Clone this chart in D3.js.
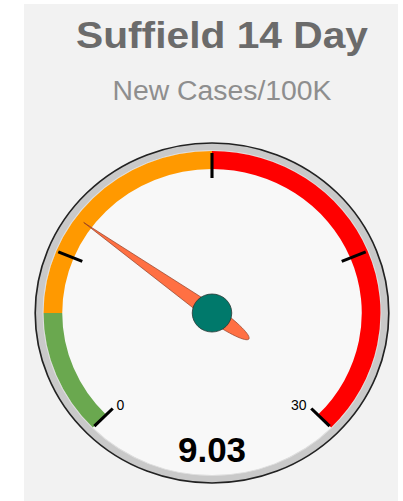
<!DOCTYPE html>
<html>
<head>
<meta charset="utf-8">
<script src="https://cdn.jsdelivr.net/npm/d3@7"></script>
<style>
  body { margin: 0; background: #fff; }
  svg text { font-family: "Liberation Sans", Arial, sans-serif; }
</style>
</head>
<body>
<div id="svg-holder"></div>
<script>
var width = 403;
var height = 501;

// gauge data
var title = "Suffield 14 Day";
var subtitle = "New Cases/100K";
var gaugeMin = 0;
var gaugeMax = 30;
var value = 9.03;
var bandFrom = [0, 5, 15];
var bandTo = [5, 15, 30];
var bandColors = ["#6aa84f", "#ff9900", "#ff0000"];
var majorTicks = [0, 7.5, 15, 22.5, 30];
var tickLabels = ["0", "", "", "", "30"];

var cx = 212, cy = 313;
var rOuter = 170;
var rFace = 162.5;
var bandOuter = 162;
var bandInner = 144;

var svg = d3.select('#svg-holder').append('svg')
            .attr("width", width)
            .attr("height", height);

// panel
svg.append('rect')
    .attr('x', 24).attr('y', 4)
    .attr('width', 374).attr('height', 497)
    .attr('fill', '#f2f2f2');

svg.append('text')
    .attr('x', 222).attr('y', 48)
    .attr('text-anchor', 'middle')
    .attr('font-size', 37)
    .attr('font-weight', 'bold')
    .attr('fill', '#6b6b6b')
    .attr('textLength', 292)
    .attr('lengthAdjust', 'spacingAndGlyphs')
    .text(title);

svg.append('text')
    .attr('x', 222).attr('y', 100)
    .attr('text-anchor', 'middle')
    .attr('font-size', 27)
    .attr('fill', '#8e8e8e')
    .attr('textLength', 219)
    .attr('lengthAdjust', 'spacingAndGlyphs')
    .text(subtitle);

// angle scale, degrees from 12 o'clock
var angle = d3.scaleLinear().domain([gaugeMin, gaugeMax]).range([-135, 135]);
var rad = function(d) { return angle(d) * Math.PI / 180; };

var g = svg.append('g')
    .attr('transform', 'translate(' + cx + ',' + cy + ') scale(1.04,1)');

g.append('circle')
    .attr('r', rOuter)
    .attr('fill', '#c9c9c9')
    .attr('stroke', '#222')
    .attr('stroke-width', 1.6);

g.append('circle')
    .attr('r', rFace)
    .attr('fill', '#f8f8f8')
    .attr('stroke', '#dedede')
    .attr('stroke-width', 1);

var arc = d3.arc()
    .innerRadius(bandInner)
    .outerRadius(bandOuter)
    .startAngle(function(d, i) { return rad(bandFrom[i]); })
    .endAngle(function(d, i) { return rad(bandTo[i]); });

g.selectAll('path.band')
    .data(bandColors)
    .enter().append('path')
    .attr('class', 'band')
    .attr('d', arc)
    .attr('fill', function(d) { return d; });

g.selectAll('line.tick')
    .data(majorTicks)
    .enter().append('line')
    .attr('class', 'tick')
    .attr('x1', function(d) { return 135 * Math.sin(rad(d)); })
    .attr('y1', function(d) { return -135 * Math.cos(rad(d)); })
    .attr('x2', function(d) { return 160 * Math.sin(rad(d)); })
    .attr('y2', function(d) { return -160 * Math.cos(rad(d)); })
    .attr('stroke', '#000')
    .attr('stroke-width', 3);

// tick labels (outside the scaled group so glyphs are not stretched)
svg.selectAll('text.lbl')
    .data(majorTicks)
    .enter().append('text')
    .attr('class', 'lbl')
    .attr('x', function(d) {
        var s = Math.sin(rad(d));
        return cx + 1.04 * 134 * s + (s < 0 ? 3 : -4);
    })
    .attr('y', function(d) { return cy - 134 * Math.cos(rad(d)) + 2; })
    .attr('text-anchor', function(d) { return Math.sin(rad(d)) < 0 ? 'start' : 'end'; })
    .attr('font-size', 14)
    .attr('fill', '#000')
    .text(function(d, i) { return tickLabels[i]; });

// needle
var needle = g.append('g')
    .attr('transform', 'rotate(' + angle(value) + ')');

needle.append('path')
    .attr('d', 'M0,-153 L7.5,0 C7.5,26 4,44 0,44 C-4,44 -7.5,26 -7.5,0 Z')
    .attr('fill', '#ff7043')
    .attr('stroke', '#8a3a22')
    .attr('stroke-width', 0.6);

g.append('circle')
    .attr('r', 19)
    .attr('fill', '#00796b')
    .attr('stroke', '#2a3a36')
    .attr('stroke-width', 0.8);

svg.append('text')
    .attr('x', 212).attr('y', 462)
    .attr('text-anchor', 'middle')
    .attr('font-size', 35)
    .attr('font-weight', 'bold')
    .attr('fill', '#000')
    .text(d3.format('.2f')(value));
</script>
</body>
</html>
